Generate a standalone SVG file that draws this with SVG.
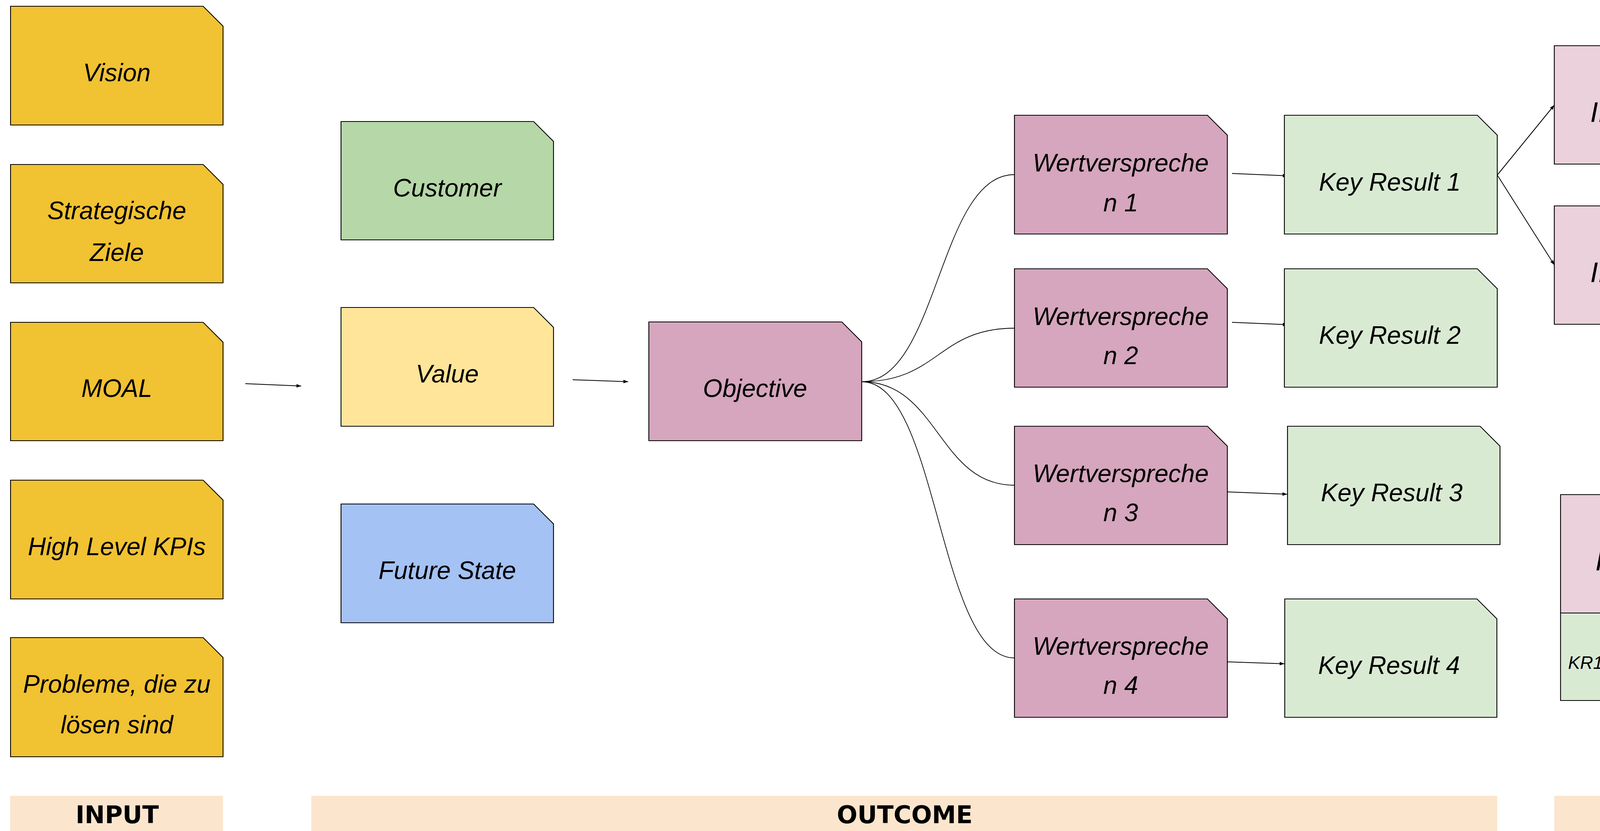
<svg xmlns="http://www.w3.org/2000/svg" width="4522" height="2127" viewBox="0 0 4522 2127">
<defs>
<marker id="arr" markerUnits="userSpaceOnUse" markerWidth="13" markerHeight="10" refX="12" refY="4.5" orient="auto">
<path d="M0,0 L12,4.5 L0,9 Z" fill="#000"/>
</marker>
<style>
.n{stroke:#000;stroke-width:2.2;stroke-linejoin:miter}
.t{font-family:"Liberation Sans","DejaVu Sans",sans-serif;font-style:italic;font-size:64px;fill:#000;text-anchor:middle}
.ti{font-family:"Liberation Sans","DejaVu Sans",sans-serif;font-style:italic;font-size:72px;letter-spacing:2px;fill:#000;text-anchor:middle}
.ts{font-family:"Liberation Sans","DejaVu Sans",sans-serif;font-style:italic;font-size:46px;fill:#000;text-anchor:middle}
.h{font-family:"DejaVu Sans","Liberation Sans",sans-serif;font-weight:bold;font-size:62px;fill:#000;text-anchor:middle}
.yel{fill:#F1C232}.grn{fill:#B6D7A8}.val{fill:#FFE599}.blu{fill:#A4C2F4}.mau{fill:#D5A6BD}.kr{fill:#D9EAD3}.ini{fill:#EAD1DC}
.bar{fill:#FCE5CD}
.c{fill:none;stroke:#000;stroke-width:1.8}
.a{fill:none;stroke:#000;stroke-width:2;marker-end:url(#arr)}
</style>
</defs>
<rect width="4522" height="2127" fill="#fff"/>

<g id="bars">
<rect class="bar" x="26" y="2037" width="545" height="90"/>
<text class="h" x="300" y="2107">INPUT</text>
<rect class="bar" x="797" y="2037" width="3036" height="90"/>
<text class="h" x="2316" y="2107">OUTCOME</text>
<rect class="bar" x="3979" y="2037" width="543" height="90"/>
<text class="h" x="4252" y="2107">OUTPUT</text>
</g>

<g id="connectors">
<line class="a" x1="628" y1="982" x2="771" y2="988"/>
<line class="a" x1="1466" y1="972" x2="1608" y2="977"/>
<path class="c" d="M2206,977 C2402,977 2402,447 2597,447"/>
<path class="c" d="M2206,977 C2402,977 2402,840 2597,840"/>
<path class="c" d="M2206,977 C2402,977 2402,1242 2597,1242"/>
<path class="c" d="M2206,977 C2402,977 2402,1684 2597,1684"/>
<line class="a" x1="3154" y1="444" x2="3296" y2="450"/>
<line class="a" x1="3154" y1="825" x2="3296" y2="831"/>
<line class="a" x1="3142" y1="1259" x2="3295" y2="1265"/>
<line class="a" x1="3142" y1="1694" x2="3288" y2="1699"/>
<line class="a" x1="3833" y1="448" x2="3979" y2="269"/>
<line class="a" x1="3833" y1="448" x2="3979" y2="678"/>
</g>

<g id="vision">
<path class="n yel" d="M27,16 H520 L571,67 V320 H27 Z"/>
<text class="t" x="299" y="208">Vision</text>
</g>
<g id="strategische-ziele">
<path class="n yel" d="M27,421 H520 L571,472 V724 H27 Z"/>
<text class="t" x="299" y="561">Strategische</text>
<text class="t" x="299" y="668">Ziele</text>
</g>
<g id="moal">
<path class="n yel" d="M27,825 H520 L571,876 V1128 H27 Z"/>
<text class="t" x="299" y="1016">MOAL</text>
</g>
<g id="high-level-kpis">
<path class="n yel" d="M27,1229 H520 L571,1280 V1533 H27 Z"/>
<text class="t" x="299" y="1421">High Level KPIs</text>
</g>
<g id="probleme">
<path class="n yel" d="M27,1632 H520 L571,1683 V1937 H27 Z"/>
<text class="t" x="299" y="1773">Probleme, die zu</text>
<text class="t" x="299" y="1877">lösen sind</text>
</g>

<g id="customer">
<path class="n grn" d="M873,311 H1366 L1417,362 V614 H873 Z"/>
<text class="t" x="1145" y="503">Customer</text>
</g>
<g id="value">
<path class="n val" d="M873,787 H1366 L1417,838 V1091 H873 Z"/>
<text class="t" x="1145" y="979">Value</text>
</g>
<g id="future-state">
<path class="n blu" d="M873,1290 H1366 L1417,1341 V1594 H873 Z"/>
<text class="t" x="1145" y="1482">Future State</text>
</g>

<g id="objective">
<path class="n mau" d="M1661,824 H2155 L2206,875 V1128 H1661 Z"/>
<text class="t" x="1933" y="1016">Objective</text>
</g>

<g id="wertversprechen-1">
<path class="n mau" d="M2597,295 H3091 L3142,346 V599 H2597 Z"/>
<text class="t" x="2869" y="439">Wertverspreche</text>
<text class="t" x="2869" y="541">n 1</text>
</g>
<g id="wertversprechen-2">
<path class="n mau" d="M2597,688 H3091 L3142,739 V991 H2597 Z"/>
<text class="t" x="2869" y="832">Wertverspreche</text>
<text class="t" x="2869" y="932">n 2</text>
</g>
<g id="wertversprechen-3">
<path class="n mau" d="M2597,1091 H3091 L3142,1142 V1394 H2597 Z"/>
<text class="t" x="2869" y="1234">Wertverspreche</text>
<text class="t" x="2869" y="1334">n 3</text>
</g>
<g id="wertversprechen-4">
<path class="n mau" d="M2597,1533 H3091 L3142,1584 V1836 H2597 Z"/>
<text class="t" x="2869" y="1676">Wertverspreche</text>
<text class="t" x="2869" y="1776">n 4</text>
</g>

<g id="key-result-1">
<path class="n kr" d="M3288,295 H3782 L3833,346 V599 H3288 Z"/>
<text class="t" x="3558" y="488">Key Result 1</text>
</g>
<g id="key-result-2">
<path class="n kr" d="M3288,688 H3782 L3833,739 V991 H3288 Z"/>
<text class="t" x="3558" y="880">Key Result 2</text>
</g>
<g id="key-result-3">
<path class="n kr" d="M3296,1091 H3789 L3840,1142 V1394 H3296 Z"/>
<text class="t" x="3563" y="1283">Key Result 3</text>
</g>
<g id="key-result-4">
<path class="n kr" d="M3289,1533 H3781 L3832,1584 V1836 H3289 Z"/>
<text class="t" x="3556" y="1725">Key Result 4</text>
</g>

<g id="initiative-1">
<path class="n ini" d="M3979,117 H4473 L4524,168 V420 H3979 Z"/>
<text class="ti" x="4245" y="312">Initiative 1</text>
</g>
<g id="initiative-2">
<path class="n ini" d="M3979,527 H4473 L4524,578 V830 H3979 Z"/>
<text class="ti" x="4245" y="722">Initiative 2</text>
</g>

<text class="h" x="4207" y="1078">ODER</text>

<g id="initiative-1-kr">
<path class="n ini" d="M3995,1266 H4488 L4539,1317 V1569 H3995 Z"/>
<text class="ti" x="4258" y="1460">Initiative 1</text>
</g>
<g id="kr1">
<path class="n kr" d="M3995,1569 H4133 L4161,1597 V1793 H3995 Z"/>
<text class="ts" x="4059" y="1712">KR1</text>
</g>
<g id="kr3">
<path class="n kr" d="M4183,1573 H4322 L4350,1600 V1796 H4183 Z"/>
<text class="ts" x="4248" y="1714">KR3</text>
</g>
</svg>
